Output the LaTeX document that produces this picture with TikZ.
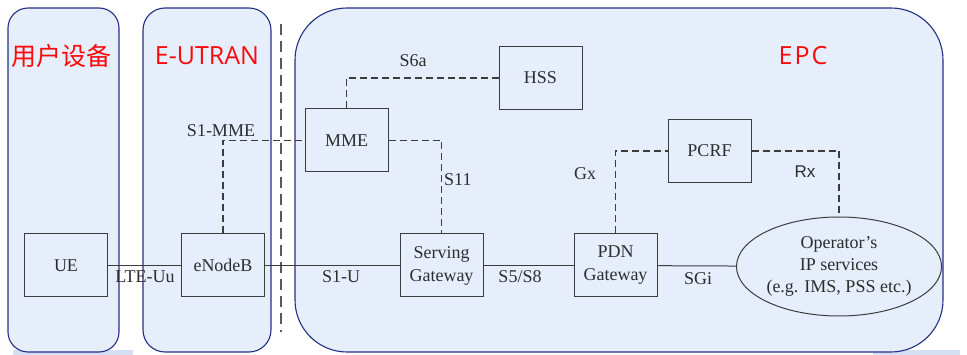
\documentclass[tikz,border=0pt]{standalone}
\usepackage{fontspec}
\setmainfont{Liberation Serif}
\newfontfamily\titlefont{Open Sans}
\newfontfamily\cjkfont{Noto Sans CJK SC}
\newfontfamily\labelsans{Liberation Sans}
\usetikzlibrary{shapes.geometric}
\definecolor{panelfill}{RGB}{230,238,251}
\definecolor{panelline}{RGB}{36,48,130}
\definecolor{inkgray}{RGB}{45,45,45}
\definecolor{lineg}{RGB}{60,60,60}
\definecolor{titlered}{RGB}{250,10,10}
\definecolor{shadowblue}{RGB}{214,224,245}
\tikzset{
  panel/.style={draw=panelline, line width=1.1pt, fill=panelfill},
  netbox/.style={draw=lineg, line width=1pt, minimum width=83pt, minimum height=63pt,
    inner sep=0pt, align=center, text=inkgray, font=\rmfamily\fontsize{18}{23}\selectfont},
  svcnode/.style={ellipse, draw=lineg, line width=1pt, minimum width=198pt, minimum height=99pt,
    inner sep=0pt, align=center, text=inkgray, font=\rmfamily\fontsize{18}{22}\selectfont},
  solidlink/.style={draw=lineg, line width=1pt},
  dashlink/.style={draw=lineg, line width=1.1pt, dash pattern=on 7pt off 4pt},
  divider/.style={draw=black!65, line width=2pt, dash pattern=on 11pt off 6pt},
  ifacelabel/.style={text=inkgray, inner sep=0pt, font=\rmfamily\fontsize{18}{22}\selectfont},
  paneltitle/.style={text=titlered, inner sep=0pt, font=\titlefont\fontsize{25}{30}\selectfont}
}
\begin{document}
\begin{tikzpicture}[x=1pt, y=-1pt]
\useasboundingbox (0,0) rectangle (967,355);
\fill[white] (0,0) rectangle (967,355);

% faint strips along the lower edge
\fill[shadowblue] (13,350) rectangle (133,355);
\fill[shadowblue] (873,350) rectangle (960,355);

% domain panels
\draw[panel, rounded corners=20pt] (8,8) rectangle (119,352);
\draw[panel, rounded corners=22pt] (143,8) rectangle (271,352);
\draw[panel, rounded corners=52pt] (295,8) rectangle (943,352);

% boundary between access and core
\coordinate (divtop) at (281,24);
\coordinate (divbot) at (281,332);
\draw[divider] (divtop) -- (divbot);

% panel titles
\node[paneltitle, font=\cjkfont\fontsize{25}{30}\selectfont] (tue) at (62,56) {用户设备};
\node[paneltitle] (tran) at (207,56) {E-UTRAN};
\node[paneltitle] (tepc) at (803,56) {E\kern2ptP\kern2ptC};

% network elements
\node[netbox] (ue)   at (66,265.5)    {UE};
\node[netbox] (enb)  at (223,265.5)   {eNodeB};
\node[netbox] (mme)  at (346.5,140.5) {MME};
\node[netbox] (hss)  at (540.5,78)    {HSS};
\node[netbox] (sgw)  at (441.5,265.5) {Serving\\Gateway};
\node[netbox] (pgw)  at (615.5,265.5) {PDN\\Gateway};
\node[netbox] (pcrf) at (709.5,151)   {PCRF};
\node[svcnode] (ops) at (839,266.5) {Operator’s\\IP services\\(e.g. IMS, PSS etc.)};

% user plane
\draw[solidlink] (ue) -- (enb);
\draw[solidlink] (enb) -- (sgw);
\draw[solidlink] (sgw) -- (pgw);
\draw[solidlink] (pgw) -- (ops);

% control plane
\draw[dashlink] (enb.north) |- (mme.west);
\draw[dashlink] (mme.north) |- (hss.west);
\draw[dashlink] (mme.east) -| (sgw.north);
\draw[dashlink] (pgw.north) |- (pcrf.west);
\draw[dashlink] (pcrf.east) -| (ops.north);

% interface names
\node[ifacelabel] (luu)  at (145,277) {LTE-Uu};
\node[ifacelabel] (ls1u) at (341,277) {S1-U};
\node[ifacelabel] (ls58) at (520,277) {S5/S8};
\node[ifacelabel] (lsgi) at (698,279) {SGi};
\node[ifacelabel] (ls1m) at (221,131) {S1-MME};
\node[ifacelabel] (ls6a) at (413,61)  {S6a};
\node[ifacelabel, anchor=west] (ls11) at (444,180) {S11};
\node[ifacelabel] (lgx)  at (585,174) {Gx};
\node[ifacelabel, font=\labelsans\fontsize{17}{20}\selectfont] (lrx) at (805,172) {Rx};
\end{tikzpicture}
\end{document}
